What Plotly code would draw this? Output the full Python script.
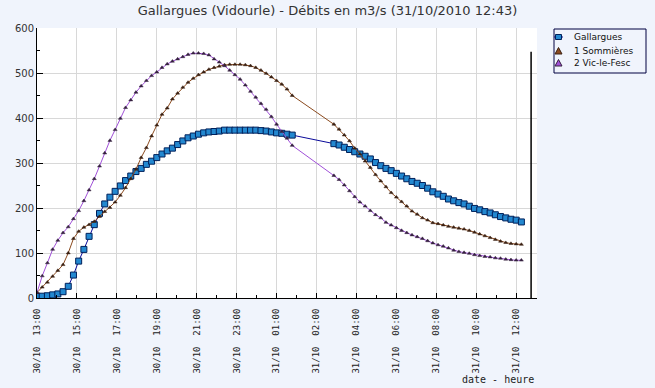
import pandas as pd
import plotly.graph_objects as go

# ---- data ----
seg1_start = "2010-10-30 13:00"   # 15-min readings until 31/10 01:15
seg2_start = "2010-10-31 03:15"   # readings resume, until 31/10 12:15
now_time = "2010-10-31 12:43"
now_level = 547

gallargues_1 = [4, 4, 5, 7, 9, 14, 26, 51, 82, 108, 137, 163, 188, 209, 224, 237, 249, 261, 271, 281,
                288, 297, 304, 312, 320, 327, 333, 341, 349, 356, 360, 364, 367, 369, 370, 371, 373, 373, 373, 373,
                373, 373, 373, 372, 371, 369, 367, 366, 364, 362]
gallargues_2 = [343, 340, 335, 330, 325, 320, 315, 309, 301, 294, 288, 283, 277, 271, 265, 259, 255, 250, 244, 236,
                231, 226, 220, 216, 212, 209, 204, 199, 196, 192, 189, 185, 181, 178, 175, 173, 169]

sommieres_1 = [12, 24, 35, 48, 61, 74, 100, 132, 148, 157, 163, 170, 181, 192, 201, 213, 228, 245, 265, 286,
               312, 334, 360, 384, 408, 422, 442, 455, 468, 479, 488, 496, 502, 508, 512, 515, 518, 519, 519, 519,
               518, 516, 512, 506, 499, 491, 483, 475, 464, 450]
sommieres_2 = [386, 375, 362, 349, 333, 320, 304, 290, 274, 260, 247, 234, 224, 214, 204, 193, 186, 178, 173, 167,
               165, 162, 159, 157, 155, 153, 150, 146, 142, 138, 134, 130, 126, 123, 121, 120, 119]

vic_1 = [12, 49, 78, 108, 128, 145, 158, 176, 194, 216, 240, 265, 293, 322, 350, 374, 399, 423, 440, 457,
         471, 483, 494, 502, 512, 520, 526, 531, 536, 541, 544, 544, 543, 540, 531, 524, 516, 506, 496, 486,
         473, 459, 446, 432, 419, 403, 386, 370, 355, 339]
vic_2 = [272, 263, 251, 238, 225, 213, 204, 194, 185, 178, 168, 162, 156, 150, 145, 140, 136, 132, 127, 122,
         118, 115, 111, 106, 103, 101, 99, 96, 94, 92, 91, 89, 88, 86, 85, 84, 84]

tick_labels = ["30/10  13:00", "30/10  15:00", "30/10  17:00", "30/10  19:00", "30/10  21:00",
               "30/10  23:00", "31/10  01:00", "31/10  02:00", "31/10  04:00", "31/10  06:00",
               "31/10  08:00", "31/10  10:00", "31/10  12:00"]
series_names = ["Gallargues", "1 Sommières", "2 Vic-le-Fesc"]
series_colors = ["#2388D0", "#8B4A1E", "#A050D8"]
marker_dark = ["#00205A", "#3A2012", "#35203F"]

# ---- layout geometry (pixels) ----
W, H = 655, 388
L, R, T, B = 37, 118, 28, 90
PW, PH = W - L - R, H - T - B


def px(xp):
    return (xp - L) / PW


def py(yp):
    return (H - B - yp) / PH


# ---- build ----
t1 = list(pd.date_range(seg1_start, periods=len(gallargues_1), freq="15min"))
t2 = list(pd.date_range(seg2_start, periods=len(gallargues_2), freq="15min"))
times = t1 + t2

x_start = pd.Timestamp(seg1_start)
x_end = x_start + pd.Timedelta(hours=24)
step = pd.Timedelta(minutes=115)
tick_vals = [x_start + step * k for k in range(len(tick_labels))]
minor_vals = [x_start + step * k + step / 2 for k in range(len(tick_labels))]

PAGE = "#F0F4FC"
fig = go.Figure()
fig.add_trace(go.Scatter(
    x=times, y=gallargues_1 + gallargues_2, name=series_names[0], mode="lines+markers",
    line=dict(color="#0A0A9A", width=1),
    marker=dict(symbol="square", size=6, color=series_colors[0], line=dict(color=marker_dark[0], width=1))))
fig.add_trace(go.Scatter(
    x=times, y=sommieres_1 + sommieres_2, name=series_names[1], mode="lines+markers",
    line=dict(color=series_colors[1], width=1),
    marker=dict(symbol="triangle-up", size=3.5, color=marker_dark[1], line=dict(color=marker_dark[1], width=0.5))))
fig.add_trace(go.Scatter(
    x=times, y=vic_1 + vic_2, name=series_names[2], mode="lines+markers",
    line=dict(color=series_colors[2], width=1),
    marker=dict(symbol="triangle-up", size=3.5, color=marker_dark[2], line=dict(color=marker_dark[2], width=0.5))))

fig.add_shape(type="line", xref="x", yref="y", x0=now_time, x1=now_time, y0=0, y1=now_level,
              line=dict(color="black", width=1.5))

# ---- legend box (drawn) ----
fig.add_shape(type="rect", xref="paper", yref="paper", x0=px(554), x1=px(646), y0=py(73), y1=py(29),
              line=dict(color="#000040", width=1), fillcolor=PAGE, layer="above")
leg_y = [37, 51, 63]
fig.add_shape(type="line", xref="paper", yref="paper", x0=px(554.5), x1=px(562.5), y0=py(leg_y[0]),
              y1=py(leg_y[0]), line=dict(color="#0A0A9A", width=2), layer="above")
fig.add_shape(type="rect", xref="paper", yref="paper", x0=px(555.5), x1=px(561.5), y0=py(leg_y[0] + 2.5),
              y1=py(leg_y[0] - 2.5), line=dict(color=marker_dark[0], width=1), fillcolor=series_colors[0],
              layer="above")
for k in (1, 2):
    fig.add_shape(type="path", xref="paper", yref="paper",
                  path="M {a},{b} L {c},{b} L {d},{e} Z".format(
                      a=px(555), c=px(562), b=py(leg_y[k] + 3), d=px(558.5), e=py(leg_y[k] - 3.5)),
                  line=dict(color=marker_dark[k], width=1), fillcolor=series_colors[k], layer="above")
for k, name in enumerate(series_names):
    fig.add_annotation(text=name, xref="paper", yref="paper", x=px(572), y=py(leg_y[k]),
                       xanchor="left", yanchor="middle", showarrow=False,
                       font=dict(family="DejaVu Sans", size=9, color="#111"))

fig.add_annotation(text="date - heure", xref="paper", yref="paper", x=px(536), y=py(379),
                   xanchor="right", yanchor="middle", showarrow=False,
                   font=dict(family="DejaVu Sans Mono", size=10, color="#222"))

fig.update_layout(
    width=W, height=H,
    paper_bgcolor=PAGE, plot_bgcolor="white",
    margin=dict(l=L, r=R, t=T, b=B),
    title=dict(text="Gallargues (Vidourle) - Débits en m3/s (31/10/2010 12:43)",
               x=0.5, xref="container", y=1 - 10 / H, yref="container", yanchor="middle",
               font=dict(family="DejaVu Sans", size=13, color="#333")),
    showlegend=False,
    font=dict(family="DejaVu Sans", size=10, color="#222"),
)
fig.update_xaxes(
    type="date", range=[x_start, x_end], tickvals=tick_vals, ticktext=tick_labels,
    tickangle=-90, tickfont=dict(family="DejaVu Sans Mono", size=9, color="#222"),
    ticks="inside", ticklen=5, tickcolor="black", showline=True, linecolor="black", linewidth=1,
    showgrid=True, gridcolor="#D8D8D8", zeroline=False, ticklabelstandoff=6,
    minor=dict(tickvals=minor_vals, ticks="inside", ticklen=3, tickcolor="black", showgrid=False),
)
fig.update_yaxes(
    range=[0, 600], tick0=0, dtick=100, ticks="inside", ticklen=6, tickcolor="black",
    showline=True, linecolor="black", linewidth=1, showgrid=True, gridcolor="#D8D8D8", zeroline=False,
    tickfont=dict(family="DejaVu Sans", size=10, color="#333"),
    minor=dict(dtick=50, ticks="inside", ticklen=3, tickcolor="black", showgrid=False),
)

fig.write_html(
    "out.html",
    config={"displayModeBar": False},
    post_script="document.body.style.margin='0px';document.body.style.background='" + PAGE + "';"
                "document.documentElement.style.overflow='hidden';",
)
